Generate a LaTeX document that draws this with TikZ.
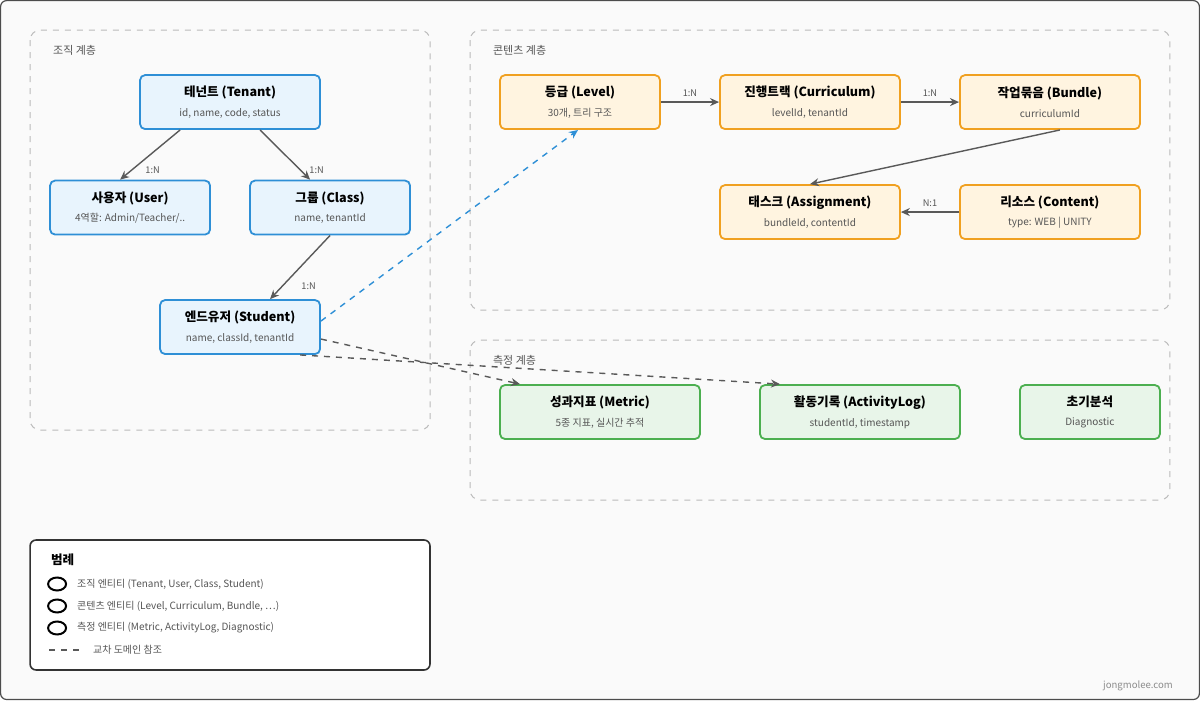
\documentclass[tikz,border=0pt]{standalone}
\usepackage{fontspec}
\setmainfont{Noto Sans CJK KR}
\usepackage{xcolor}
\usepackage{tikz}
\usetikzlibrary{arrows.meta,positioning}
\definecolor{orgfill}{HTML}{E8F4FD}\definecolor{orgline}{HTML}{2E8FD6}
\definecolor{confill}{HTML}{FFF4E0}\definecolor{conline}{HTML}{F0A020}
\definecolor{mesfill}{HTML}{E8F5E9}\definecolor{mesline}{HTML}{4CAF50}
\definecolor{grp}{HTML}{BBBBBB}\definecolor{txt}{HTML}{555555}
\tikzset{
  ent/.style={draw,rounded corners=2.5pt,line width=0.9pt,align=center,inner sep=0pt,
    minimum height=27pt,font=\fontsize{6.3}{9}\selectfont\bfseries},
  org/.style={ent,fill=orgfill,draw=orgline},
  con/.style={ent,fill=confill,draw=conline},
  mes/.style={ent,fill=mesfill,draw=mesline},
  sub/.style={font=\fontsize{5}{6}\selectfont\mdseries,text=txt},
  grp/.style={draw=grp,dashed,rounded corners=5pt,line width=0.5pt},
  rel/.style={-{Stealth[length=4.5pt,width=4pt]},draw=black!65,line width=0.7pt},
  cross/.style={rel,dashed},
  card/.style={font=\fontsize{4.6}{6}\selectfont,text=txt}
}
\newcommand{\ent}[2]{#1\\[0.8pt]{\fontsize{5}{9}\selectfont\mdseries\color{txt}#2}}
\begin{document}
\begin{tikzpicture}[x=0.5pt,y=-0.5pt]
\draw[fill=black!2,draw=black!70,rounded corners=3pt,line width=0.6pt] (0.5,0.5) rectangle (1199.5,699.5);
% groups
\draw[grp] (30,30) rectangle (430,430);
\draw[grp] (470,30) rectangle (1170,310);
\draw[grp] (470,340) rectangle (1170,500);
\node[sub,anchor=west,font=\fontsize{5.5}{7}\selectfont] (gorg) at (46,50) {조직 계층};
\node[sub,anchor=west,font=\fontsize{5.5}{7}\selectfont] (gcon) at (486,50) {콘텐츠 계층};
\node[sub,anchor=west,font=\fontsize{5.5}{7}\selectfont] (gmes) at (486,360) {측정 계층};
% organisation
\node[org,minimum width=90pt] (tenant) at (230,102) {\ent{테넌트 (Tenant)}{id, name, code, status}};
\node[org,minimum width=80pt] (user) at (130,207.5) {\ent{사용자 (User)}{4역할: Admin/Teacher/..}};
\node[org,minimum width=80pt] (class) at (330,207.5) {\ent{그룹 (Class)}{name, tenantId}};
\node[org,minimum width=80pt] (student) at (240,327) {\ent{엔드유저 (Student)}{name, classId, tenantId}};
% contents
\node[con,minimum width=80pt] (level) at (580,102) {\ent{등급 (Level)}{30개, 트리 구조}};
\node[con,minimum width=90pt] (curriculum) at (810,102) {\ent{진행트랙 (Curriculum)}{levelId, tenantId}};
\node[con,minimum width=90pt] (bundle) at (1050,102) {\ent{작업묶음 (Bundle)}{curriculumId}};
\node[con,minimum width=90pt] (assignment) at (810,212) {\ent{태스크 (Assignment)}{bundleId, contentId}};
\node[con,minimum width=90pt] (content) at (1050,212) {\ent{리소스 (Content)}{type: WEB | UNITY}};
% measurement
\node[mes,minimum width=100pt] (metric) at (600,412) {\ent{성과지표 (Metric)}{5종 지표, 실시간 추적}};
\node[mes,minimum width=100pt] (activity) at (860,412) {\ent{활동기록 (ActivityLog)}{studentId, timestamp}};
\node[mes,minimum width=70pt] (diagnostic) at (1090,412) {\ent{초기분석}{Diagnostic}};
% relations
\draw[rel] ([xshift=-25pt]tenant.south) -- ([xshift=-5pt]user.north) node[card,pos=0.8,right=3pt] {1:N};
\draw[rel] ([xshift=15pt]tenant.south) -- ([xshift=-10pt]class.north) node[card,pos=0.8,right=1pt] {1:N};
\draw[rel] (class.south) -- ([xshift=15pt]student.north) node[card,pos=0.8,right=6pt] {1:N};
\draw[rel] (level) -- (curriculum) node[card,midway,above=-1pt] {1:N};
\draw[rel] (curriculum) -- (bundle) node[card,midway,above=-1pt] {1:N};
\draw[rel] ([xshift=5pt]bundle.south) -- (assignment.north);
\draw[rel] (content) -- (assignment) node[card,midway,above=-1pt] {N:1};
\draw[cross,draw=orgline] ([yshift=3pt]student.east) -- ([xshift=-1pt]level.south);
\draw[cross] ([yshift=-6pt]student.east) -- ([xshift=-40pt]metric.north);
\draw[cross] ([xshift=30pt]student.south) -- ([xshift=-40pt]activity.north);
% legend
\draw[draw=black!80,line width=0.8pt,rounded corners=3pt,fill=white] (30,540) rectangle (430,670);
\node[anchor=west,font=\fontsize{6.3}{8}\selectfont\bfseries] (ltitle) at (44,560) {범례};
\foreach \y/\t [count=\i] in {584/{조직 엔티티 (Tenant, User, Class, Student)},
  606/{콘텐츠 엔티티 (Level, Curriculum, Bundle, \dots)},
  628/{측정 엔티티 (Metric, ActivityLog, Diagnostic)}}{
  \draw[line width=1pt] (57,\y) ellipse (9 and 6.5);
  \node[sub,anchor=west] (leg\i) at (70,\y) {\t};
}
\draw[dashed,line width=0.6pt,draw=black!65] (49,650) -- (79,650);
\node[sub,anchor=west] (leg4) at (86,650) {교차 도메인 참조};
\node[anchor=east,font=\fontsize{4.8}{6}\selectfont,text=black!45] (credit) at (1180,686) {jongmolee.com};
\end{tikzpicture}
\end{document}
